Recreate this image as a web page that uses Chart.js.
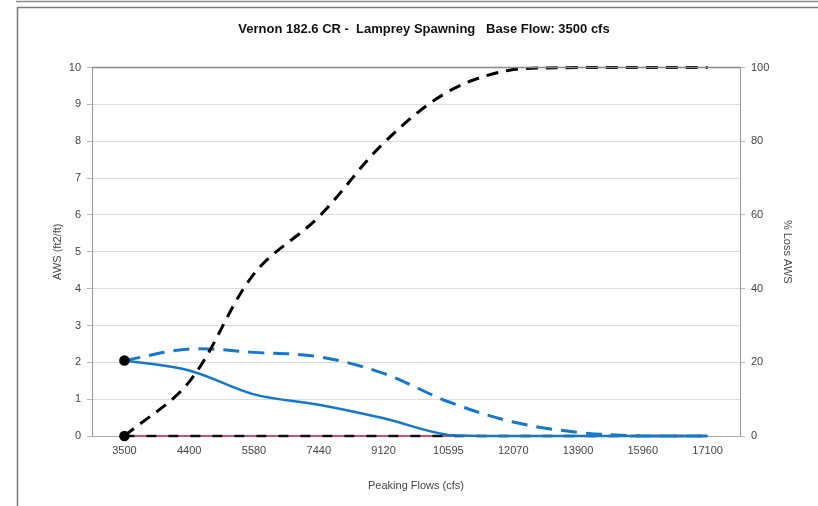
<!DOCTYPE html>
<html>
<head>
<meta charset="utf-8">
<script src="https://cdn.jsdelivr.net/npm/chart.js@4/dist/chart.umd.min.js"></script>
<style>
html,body{margin:0;padding:0;background:#fff;}
#wrap{width:818px;height:506px;position:relative;}
</style>
</head>
<body>
<div id="wrap"><canvas id="c" width="818" height="506"></canvas></div>
<script>
const categories = ['3500','4400','5580','7440','9120','10595','12070','13900','15960','17100'];
const awsSolid   = [2.05, 1.78, 1.13, 0.85, 0.48, 0.03, 0, 0, 0, 0];
const awsDashed  = [2.05, 2.36, 2.27, 2.15, 1.70, 0.93, 0.38, 0.10, 0, 0];
const lossPct    = [0, 14.7, 44, 59.5, 79.5, 93.5, 99.5, 100, 100, 100];
const lossZero   = [0, 0, 0, 0, 0, 0, 0, 0, 0, 0];
const awsZero    = [0, 0, 0, 0, 0, 0, 0, 0, 0, 0];
const leftTicks  = [0,1,2,3,4,5,6,7,8,9,10];
const rightTicks = [0,20,40,60,80,100];

const firstOnly = categories.map((c,i)=> i===0 ? 4 : 0);

const framePlugin = {
  id:'frame',
  beforeDraw(chart){
    const ctx = chart.ctx;
    ctx.save();
    ctx.fillStyle='#fff';
    ctx.fillRect(0,0,818,506);
    ctx.strokeStyle='#8a8a8a';
    ctx.lineWidth=1.5;
    ctx.beginPath();
    ctx.moveTo(16,1.5); ctx.lineTo(818,1.5);
    ctx.stroke();
    ctx.strokeStyle='#7a7a7a';
    ctx.lineWidth=1.5;
    ctx.beginPath();
    ctx.moveTo(818,7.5); ctx.lineTo(17.5,7.5); ctx.lineTo(17.5,506);
    ctx.stroke();
    ctx.restore();
  },
  afterDatasetsDraw(chart){
    const {ctx, chartArea:a} = chart;
    ctx.save();
    ctx.strokeStyle='#888';
    ctx.lineWidth=1.5;
    ctx.beginPath();
    ctx.moveTo(a.left, a.top); ctx.lineTo(a.right, a.top);
    ctx.stroke();
    ctx.restore();
  }
};

Chart.defaults.font.family = '"Liberation Sans", Arial, sans-serif';
Chart.defaults.color = '#444';

new Chart(document.getElementById('c'), {
  type:'line',
  data:{
    labels: categories,
    datasets:[
      {label:'zero AWS', data: awsZero, yAxisID:'y', borderColor:'#d0506a', borderWidth:2, pointRadius:0, clip:false, order:5},
      {label:'zero loss', data: lossZero, yAxisID:'y1', borderColor:'#111', borderWidth:2.5, borderDash:[10,12], pointRadius:firstOnly, pointBackgroundColor:'#000', pointBorderColor:'#000', clip:false, order:4},
      {label:'AWS dashed', data: awsDashed, yAxisID:'y', borderColor:'#1478cc', borderWidth:3, borderDash:[16,9], pointRadius:0, tension:0.35, clip:false, order:3},
      {label:'AWS', data: awsSolid, yAxisID:'y', borderColor:'#1478cc', borderWidth:2.5, pointRadius:firstOnly, pointBackgroundColor:'#000', pointBorderColor:'#000', tension:0.35, clip:false, order:2},
      {label:'% Loss AWS', data: lossPct, yAxisID:'y1', borderColor:'#000', borderWidth:3, borderDash:[12,8], pointRadius:0, tension:0.35, clip:false, order:1}
    ]
  },
  options:{
    responsive:false,
    animation:false,
    layout:{padding:{left:40, right:10, top:18, bottom:10}},
    plugins:{
      legend:{display:false},
      tooltip:{enabled:false},
      title:{display:true, text:'Vernon 182.6 CR -  Lamprey Spawning   Base Flow: 3500 cfs', color:'#111',
        font:{size:13, weight:'bold'}, padding:{top:4, bottom:30}}
    },
    scales:{
      x:{
        offset:true,
        grid:{display:false, drawTicks:false},
        border:{display:true, color:'#aaa'},
        ticks:{font:{size:11}, color:'#444', padding:8, maxRotation:0, autoSkip:false},
        title:{display:true, text:'Peaking Flows (cfs)', font:{size:11}, color:'#444', padding:{top:0,bottom:3}},
        afterFit(s){ s.height = 60; }
      },
      y:{
        position:'left', min:0, max:10,
        afterBuildTicks(s){ s.ticks = leftTicks.map(v=>({value:v})); },
        grid:{color:'#dcdcdc', tickLength:5, tickColor:'#bbb'},
        border:{display:true, color:'#999'},
        ticks:{font:{size:11}, color:'#444', padding:6},
        title:{display:true, text:'AWS (ft2/ft)', font:{size:11}, color:'#444', padding:{top:11}},
        afterFit(s){ s.width = 52; }
      },
      y1:{
        position:'right', min:0, max:100,
        afterBuildTicks(s){ s.ticks = rightTicks.map(v=>({value:v})); },
        grid:{drawOnChartArea:false, tickLength:5, tickColor:'#bbb'},
        border:{display:true, color:'#999'},
        ticks:{font:{size:11}, color:'#444', padding:6},
        title:{display:true, text:'% Loss AWS', font:{size:11}, color:'#444', padding:{top:14}},
        afterFit(s){ s.width = 68; }
      }
    }
  },
  plugins:[framePlugin]
});
</script>
</body>
</html>
